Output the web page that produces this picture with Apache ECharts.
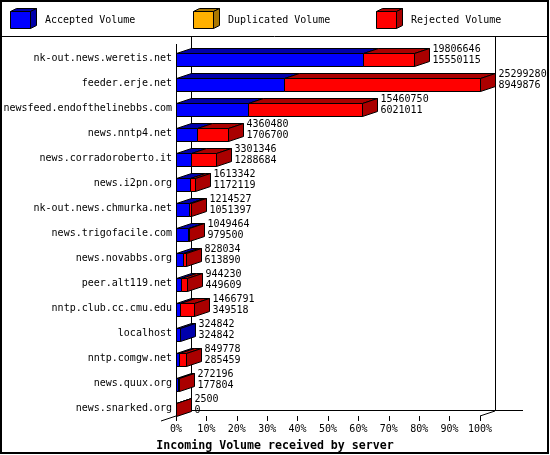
<!DOCTYPE html>
<html><head><meta charset="utf-8">
<script src="https://cdn.jsdelivr.net/npm/echarts@6/dist/echarts.min.js"></script>
<style>html,body{margin:0;padding:0;background:#fff}#c{width:550px;height:455px}</style>
</head><body><div id="c"></div>
<script>
const hosts = ['nk-out.news.weretis.net','feeder.erje.net','newsfeed.endofthelinebbs.com','news.nntp4.net','news.corradoroberto.it','news.i2pn.org','nk-out.news.chmurka.net','news.trigofacile.com','news.novabbs.org','peer.alt119.net','nntp.club.cc.cmu.edu','localhost','nntp.comgw.net','news.quux.org','news.snarked.org'];
const offered = [19806646,25299280,15460750,4360480,3301346,1613342,1214527,1049464,828034,944230,1466791,324842,849778,272196,2500];
const accepted = [15550115,8949876,6021011,1706700,1288684,1172119,1051397,979500,613890,449609,349518,324842,285459,177804,0];
const duplicated = [0,0,0,0,0,0,0,0,0,0,0,0,0,0,0];
const seriesNames = ['Accepted Volume','Duplicated Volume','Rejected Volume'];
const xTickPercents = [0,10,20,30,40,50,60,70,80,90,100];
const axisTitle = 'Incoming Volume received by server';

const frontColors = ['#0000ff','#ffb000','#ff0000'];
const sideColors = ['#0000aa','#aa7700','#aa0000'];
const maxOffered = Math.max(...offered);
const FONT = '"DejaVu Sans Mono", monospace';
const DX = 15, DY = 5, H = 13;

function renderItem(params, api) {
  const off = api.value(0), i = api.value(1), acc = api.value(2), dup = api.value(3);
  const bounds = [0, acc, acc + dup, off];
  const base = api.coord([0, i]);
  const top = Math.round(base[1]) - 6 + 0.5;
  const px = bounds.map(v => Math.round(api.coord([v, i])[0]) + 0.5);
  const children = [];
  let lastSeg = -1;
  for (let s = 0; s < 3; s++) {
    if (bounds[s + 1] - bounds[s] <= 0) continue;
    const a = px[s], b = px[s + 1];
    lastSeg = s;
    children.push({type:'polygon', shape:{points:[[a,top],[a+DX,top-DY],[b+DX,top-DY],[b,top]]},
      style:{fill:sideColors[s], stroke:'#000', lineWidth:1}});
    children.push({type:'rect', shape:{x:a, y:top, width:b-a, height:H},
      style:{fill:frontColors[s], stroke:'#000', lineWidth:1}});
  }
  const e = px[3];
  if (lastSeg >= 0) {
    children.push({type:'polygon', shape:{points:[[e,top],[e+DX,top-DY],[e+DX,top-DY+H],[e,top+H]]},
      style:{fill:sideColors[lastSeg], stroke:'#000', lineWidth:1}});
  }
  children.push({type:'text', style:{x:e+DX+3, y:top-4, text:String(off), fill:'#000',
    font:'10px ' + FONT, verticalAlign:'middle', align:'left'}});
  children.push({type:'text', style:{x:e+DX+3, y:top+7, text:String(acc), fill:'#000',
    font:'10px ' + FONT, verticalAlign:'middle', align:'left'}});
  return {type:'group', children};
}

const chart = echarts.init(document.getElementById('c'), null, {renderer:'canvas'});
const data = hosts.map((h, i) => [offered[i], i, accepted[i], duplicated[i]]);

chart.setOption({
  animation: false,
  backgroundColor: '#fff',
  title: {text: axisTitle, left: 'center', top: 435,
    textStyle: {fontFamily: FONT, fontSize: 11.6, fontWeight: 'bold', color: '#000'}},
  grid: {left: 176, top: 46, width: 304, height: 375, containLabel: false, outerBoundsMode: 'none'},
  xAxis: {type: 'value', min: 0, max: maxOffered, interval: maxOffered / 10, offset: -5,
    axisLine: {show: false}, splitLine: {show: false},
    axisTick: {show: true, length: 5, lineStyle: {color: '#000'}},
    axisLabel: {margin: 8, color: '#000', fontFamily: FONT, fontSize: 10, showMinLabel: true, showMaxLabel: true,
      formatter: v => xTickPercents[Math.round(v / maxOffered * 10)] + '%'}},
  yAxis: {type: 'category', inverse: true, data: hosts,
    axisLine: {show: false}, axisTick: {show: false}, splitLine: {show: false},
    axisLabel: {interval: 0, margin: 4, color: '#000', fontFamily: FONT, fontSize: 10}},
  series: [{type: 'custom', renderItem, data, encode: {x: 0, y: 1}, clip: false, z: 5}]
});

const X0 = Math.round(chart.convertToPixel({xAxisIndex: 0}, 0));
const X1 = Math.round(chart.convertToPixel({xAxisIndex: 0}, maxOffered));
const ln = (x1, y1, x2, y2) => ({type: 'line', silent: true, z: 0,
  shape: {x1, y1, x2, y2}, style: {stroke: '#000', lineWidth: 1}});
const graphics = [
  {type: 'rect', silent: true, z: 0, shape: {x: 1, y: 1, width: 547, height: 452},
    style: {fill: 'none', stroke: '#000', lineWidth: 2}},
  ln(0, 36.5, 549, 36.5),
  ln(X0 + 0.5, 44, X0 + 0.5, 416),
  ln(X0 + DX + 0.5, 37, X0 + DX + 0.5, 411),
  ln(X1 + DX + 0.5, 37, X1 + DX + 0.5, 411),
  ln(X0 + DX, 410.5, X1 + DX + 28, 410.5),
  ln(X0 - 15, 421, X0 + DX, 411),
  ln(X1, 416, X1 + DX, 411)
];
const legendX = [10, 193, 376];
seriesNames.forEach((n, k) => {
  const x = legendX[k] + 0.5, y = 11.5, w = 20, h = 17, dx = 6, dy = 3;
  graphics.push({type: 'polygon', silent: true, shape: {points: [[x, y], [x + dx, y - dy], [x + w + dx, y - dy], [x + w, y]]},
    style: {fill: sideColors[k], stroke: '#000', lineWidth: 1}});
  graphics.push({type: 'polygon', silent: true, shape: {points: [[x + w, y], [x + w + dx, y - dy], [x + w + dx, y - dy + h], [x + w, y + h]]},
    style: {fill: sideColors[k], stroke: '#000', lineWidth: 1}});
  graphics.push({type: 'rect', silent: true, shape: {x, y, width: w, height: h},
    style: {fill: frontColors[k], stroke: '#000', lineWidth: 1}});
  graphics.push({type: 'text', silent: true, style: {x: legendX[k] + 35, y: 20, text: n, fill: '#000',
    font: '10px ' + FONT, verticalAlign: 'middle'}});
});
chart.setOption({graphic: graphics});
</script></body></html>
